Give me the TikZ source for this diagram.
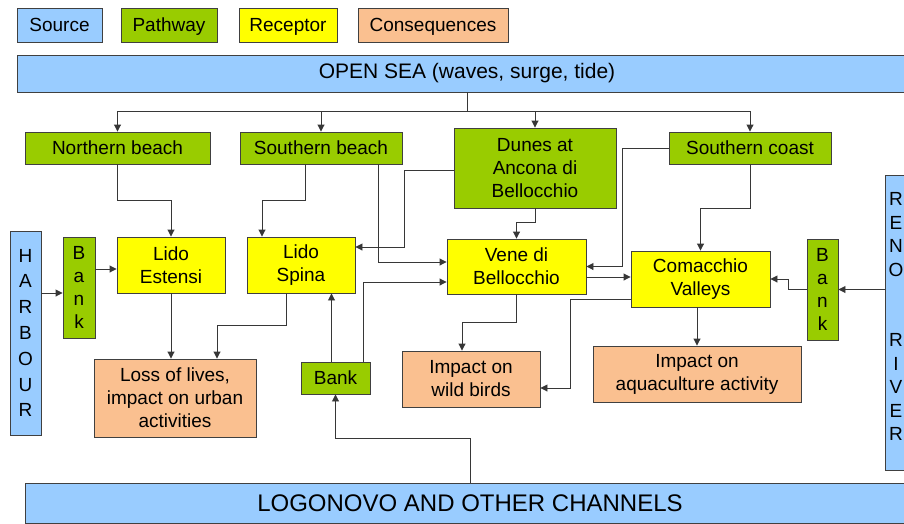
\documentclass[tikz,border=0pt]{standalone}
\usepackage{fontspec}
\setmainfont{Liberation Sans}
\usepackage{tikz}
\usetikzlibrary{arrows.meta,calc}
\definecolor{srcblue}{RGB}{153,204,255}
\definecolor{pwgreen}{RGB}{153,204,0}
\definecolor{recyellow}{RGB}{255,255,0}
\definecolor{conspeach}{RGB}{250,192,144}
\definecolor{edgegray}{RGB}{64,64,64}
\definecolor{linegray}{RGB}{55,55,55}

\begin{document}
\begin{tikzpicture}[x=1pt, y=-1pt,
  box/.style={draw=edgegray, line width=0.9pt, inner sep=0pt, align=center,
              font=\fontsize{19}{23}\selectfont, text=black},
  src/.style={box, fill=srcblue},
  pw/.style={box, fill=pwgreen},
  rec/.style={box, fill=recyellow},
  cons/.style={box, fill=conspeach},
  oneline/.style={text height=15pt, text depth=2pt},
  vtxt/.style={inner sep=0pt, align=center, font=\fontsize{19}{23.5}\selectfont},
  arr/.style={-{Triangle[length=7pt,width=7pt]}, line width=0.9pt, color=linegray},
  ln/.style={line width=0.9pt, color=linegray}
]
\useasboundingbox (0,0) rectangle (904,523);
\clip (0,0) rectangle (904,523);

% Legend
\node[src,  oneline, minimum width=85pt,  minimum height=34pt] (lsource)   at (59.5,25) {Source};
\node[pw,   oneline, minimum width=96pt,  minimum height=34pt] (lpathway)  at (169,25)  {Pathway};
\node[rec,  oneline, minimum width=98pt,  minimum height=34pt] (lreceptor) at (288,25)  {Receptor};
\node[cons, oneline, minimum width=150pt, minimum height=34pt] (lconseq)   at (433,25)  {Consequences};

% Sources
\node[src, minimum width=900pt, minimum height=37pt, font=\fontsize{21}{25}\selectfont]
  (opensea) at (467,73.5) {OPEN SEA (waves, surge, tide)};
\node[src, minimum width=31pt, minimum height=204pt, font=\fontsize{19}{25.8}\selectfont]
  (harbour) at (25.5,333) {H\\A\\R\\B\\O\\U\\R};
\node[src, minimum width=21pt, minimum height=295pt] (reno) at (895.5,322.5) {};
\node[vtxt] (renotxt) at (896,316.5) {R\\E\\N\\O\\[47pt]R\\I\\V\\E\\R};
\node[src, minimum width=890pt, minimum height=40pt, font=\fontsize{24}{28}\selectfont]
  (logonovo) at (470,503) {LOGONOVO AND OTHER CHANNELS};

% Pathways
\node[pw, oneline, minimum width=185pt, minimum height=32pt] (north)  at (117.5,148) {Northern beach};
\node[pw, oneline, minimum width=162pt, minimum height=32pt] (southb) at (321,148)   {Southern beach};
\node[pw, minimum width=162pt, minimum height=80pt] (dunes)  at (535,168)   {Dunes at\\Ancona di\\Bellocchio};
\node[pw, oneline, minimum width=162pt, minimum height=32pt] (southc) at (750,148)   {Southern coast};
\node[pw, minimum width=32pt, minimum height=101pt] (bankL)  at (79,287.5)  {B\\a\\n\\k};
\node[pw, minimum width=31pt, minimum height=101pt] (bankR)  at (822.5,289.5) {B\\a\\n\\k};
\node[pw, oneline, minimum width=69pt, minimum height=32pt]  (bankM)  at (335.5,378) {Bank};

% Receptors
\node[rec, minimum width=108pt, minimum height=56pt] (estensi)   at (171,265)   {Lido\\Estensi};
\node[rec, minimum width=108pt, minimum height=56pt] (spina)     at (301,265)   {Lido\\Spina};
\node[rec, minimum width=139pt, minimum height=55pt] (vene)      at (516.5,266.5) {Vene di\\Bellocchio};
\node[rec, minimum width=139pt, minimum height=56pt] (comacchio) at (700.5,279) {Comacchio\\Valleys};

% Consequences
\node[cons, minimum width=162pt, minimum height=78pt] (loss)  at (175,398) {Loss of lives,\\impact on urban\\activities};
\node[cons, minimum width=138pt, minimum height=56pt] (birds) at (471,379) {Impact on\\wild birds};
\node[cons, minimum width=208pt, minimum height=56pt] (aqua)  at (697,374) {Impact on\\aquaculture activity};

% Connections --- open sea
\coordinate (fork) at (467,111);
\draw[ln]  (opensea.south -| fork) -- (fork);
\draw[arr] (fork) -| (north.north);
\draw[arr] (fork) -| (southb.north);
\draw[arr] (fork) -| (dunes.north);
\draw[arr] (fork) -| (southc.north);

% Connections --- beaches and dunes
\draw[arr] (north.south) -- ++(0,36) -| (estensi.north);
\draw[arr] ([xshift=-16pt]southb.south) -- ++(0,36) -| ([xshift=-39pt]spina.north);
\draw[arr] ([xshift=57pt]southb.south) |- ([yshift=4.5pt]vene.west);
\draw[arr] ([yshift=-2pt]dunes.west) -- ++(-49,0) |- ([yshift=18pt]spina.east);
\draw[arr] (dunes.south) -- ++(0,14) -| (vene.north);
\draw[arr] (southc.west) -- ++(-46,0) |- (vene.east);
\draw[arr] (southc.south) -- ++(0,44) -| (comacchio.north);

% Connections --- banks
\draw[arr] ([yshift=-5.5pt]harbour.east |- bankL.west) -- ([yshift=-5.5pt]bankL.west);
\draw[arr] ([yshift=18.5pt]bankL.east) -- ([yshift=18.5pt]bankL.east -| estensi.west);
\draw[arr] (reno.west |- bankR.east) -- (bankR.east);
\draw[arr] (bankR.west) -- ++(-18,0) |- (comacchio.east);
\draw[arr] (logonovo.north) -- ++(0,-44) -| (bankM.south);
\draw[arr] ([xshift=-4pt]bankM.north) -- ([xshift=-4pt]bankM.north |- spina.south);
\draw[arr] ([xshift=27.5pt]bankM.north) |- ([yshift=-15.5pt]vene.west);

% Connections --- receptors
\draw[arr] ([yshift=-10.5pt]vene.east) -- ([yshift=-10.5pt]vene.east -| comacchio.west);
\draw[arr] (estensi.south) -- (estensi.south |- loss.north);
\draw[arr] ([xshift=-15pt]spina.south) -- ++(0,32) -| ([xshift=42pt]loss.north);
\draw[arr] (vene.south) -- ++(0,28) -| ([xshift=-9pt]birds.north);
\draw[arr] ([yshift=-20pt]comacchio.west) -- ++(-60,0) |- ([yshift=-9pt]birds.east);
\draw[arr] ([xshift=-3.5pt]comacchio.south) -- ([xshift=-3.5pt]comacchio.south |- aqua.north);

\end{tikzpicture}
\end{document}
